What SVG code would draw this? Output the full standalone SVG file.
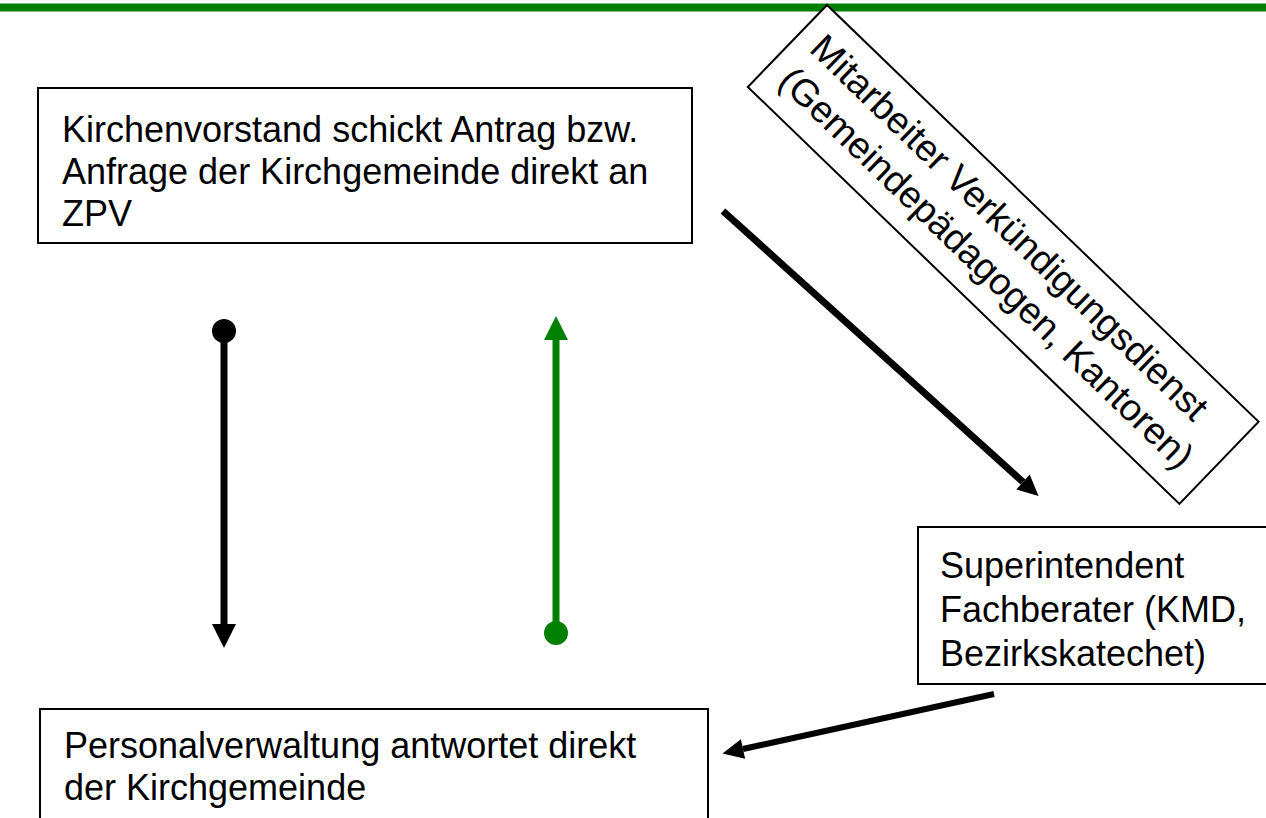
<svg xmlns="http://www.w3.org/2000/svg" width="1266" height="818" viewBox="0 0 1266 818">
<defs>
<style>
.box{fill:#fff;stroke:#000;stroke-width:2}
.t{font-family:"Liberation Sans",Arial,sans-serif;font-size:36px;fill:#000}
.tr{font-size:37.5px}
.blk{stroke:#000;fill:none}
.grn{stroke:#008000;fill:none}
</style>
<marker id="ahB" markerUnits="userSpaceOnUse" markerWidth="30" markerHeight="30" viewBox="0 -15 30 30" refX="0" refY="0" orient="auto" overflow="visible"><path d="M0,-12 L24,0 L0,12 z" fill="#000"/></marker>
<marker id="ahBs" markerUnits="userSpaceOnUse" markerWidth="30" markerHeight="30" viewBox="0 -15 30 30" refX="0" refY="0" orient="auto" overflow="visible"><path d="M0,-10 L21,0 L0,10 z" fill="#000"/></marker>
<marker id="ahG" markerUnits="userSpaceOnUse" markerWidth="30" markerHeight="30" viewBox="0 -15 30 30" refX="0" refY="0" orient="auto" overflow="visible"><path d="M0,-12 L24,0 L0,12 z" fill="#008000"/></marker>
<marker id="dotB" markerUnits="userSpaceOnUse" markerWidth="30" markerHeight="30" viewBox="-15 -15 30 30" refX="0" refY="0" overflow="visible"><circle r="12" fill="#000"/></marker>
<marker id="dotG" markerUnits="userSpaceOnUse" markerWidth="30" markerHeight="30" viewBox="-15 -15 30 30" refX="0" refY="0" overflow="visible"><circle r="12" fill="#008000"/></marker>
</defs>
<rect x="0" y="3.5" width="1266" height="8" fill="#008000"/>
<g id="node-kirchenvorstand">
<rect class="box" x="38" y="88" width="654" height="155"/>
<text class="t" x="62" y="142">Kirchenvorstand schickt Antrag bzw.</text>
<text class="t" x="62" y="184">Anfrage der Kirchgemeinde direkt an</text>
<text class="t" x="62" y="226">ZPV</text>
</g>
<g id="node-mitarbeiter" transform="translate(827,5) rotate(44)">
<rect class="box" x="0" y="0" width="600" height="114"/>
<text class="t tr" x="18" y="46">Mitarbeiter Verkündigungsdienst</text>
<text class="t tr" x="18" y="91">(Gemeindepädagogen, Kantoren)</text>
</g>
<g id="node-superintendent">
<rect class="box" x="918" y="527" width="360" height="157"/>
<text class="t" x="940" y="578">Superintendent</text>
<text class="t" x="940" y="622">Fachberater (KMD,</text>
<text class="t" x="940" y="666">Bezirkskatechet)</text>
</g>
<g id="node-personalverwaltung">
<rect class="box" x="40" y="709" width="668" height="120"/>
<text class="t" x="64" y="758">Personalverwaltung antwortet direkt</text>
<text class="t" x="64" y="800">der Kirchgemeinde</text>
</g>
<g id="connectors">
<line class="blk" x1="224" y1="331" x2="224" y2="624" stroke-width="7" marker-start="url(#dotB)" marker-end="url(#ahB)"/>
<line class="grn" x1="556" y1="633" x2="556" y2="340" stroke-width="7" marker-start="url(#dotG)" marker-end="url(#ahG)"/>
<line class="blk" x1="723" y1="211" x2="1023" y2="482" stroke-width="7" marker-end="url(#ahBs)"/>
<line class="blk" x1="994" y1="694" x2="743" y2="749" stroke-width="6" marker-end="url(#ahBs)"/>
</g>
</svg>
